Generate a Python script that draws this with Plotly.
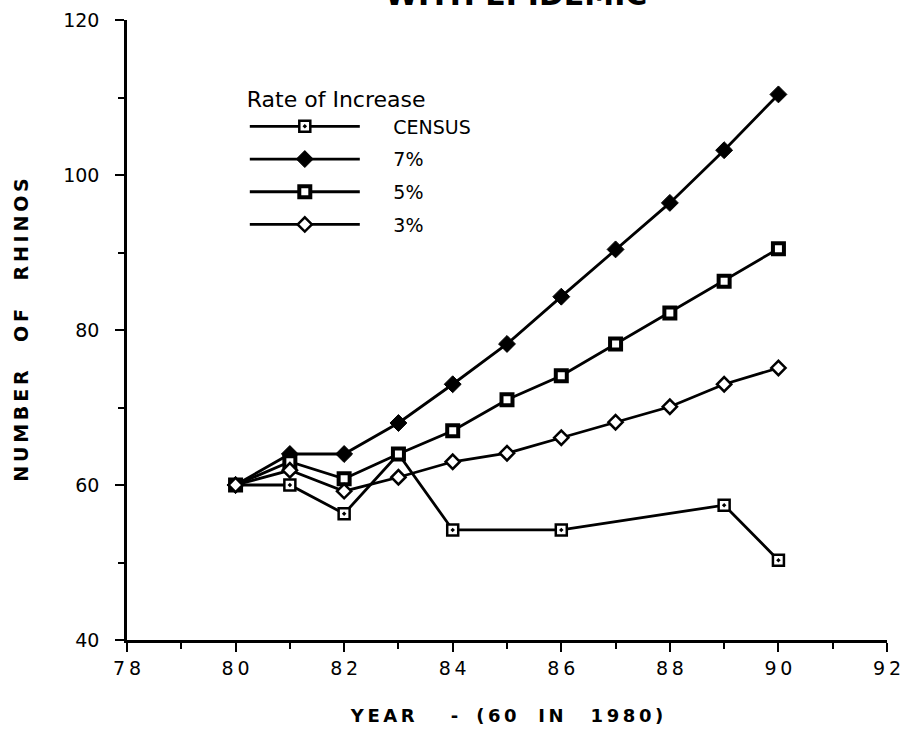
import plotly.graph_objects as go

# ---- data ----
years = [80, 81, 82, 83, 84, 85, 86, 87, 88, 89, 90]
census_years = [80, 81, 82, 83, 84, 86, 89, 90]
census = [60, 60, 56.3, 64, 54.2, 54.2, 57.4, 50.3]
rate7 = [60, 64, 64, 68, 73, 78.2, 84.3, 90.4, 96.4, 103.2, 110.4]
rate5 = [60, 63, 60.8, 64, 67, 71, 74.1, 78.2, 82.2, 86.3, 90.5]
rate3 = [60, 61.9, 59.2, 61, 63, 64.1, 66.1, 68.1, 70.1, 73, 75.1]
series_names = ["CENSUS", "7%", "5%", "3%"]
x_ticks = [78, 80, 82, 84, 86, 88, 90, 92]
x_tick_labels = ["78", "80", "82", "84", "86", "88", "90", "92"]
y_ticks = [40, 60, 80, 100, 120]
y_tick_labels = ["40", "60", "80", "100", "120"]

FONT = "DejaVu Sans"
lw = 2.8
THIN = "\u2009"
EM = "\u2003"
EN = "\u2002"


def spaced(word):
    return THIN.join(list(word))


def lname(n):
    return EM + EN + n


fig = go.Figure()
fig.add_trace(go.Scatter(
    x=census_years, y=census, name=lname(series_names[0]), mode="lines+markers", legendgroup="a",
    line=dict(color="black", width=lw),
    marker=dict(symbol="square-dot", size=11, color="white", line=dict(color="black", width=2.5))))
fig.add_trace(go.Scatter(
    x=years, y=rate7, name=lname(series_names[1]), mode="lines+markers", legendgroup="b",
    line=dict(color="black", width=lw),
    marker=dict(symbol="diamond", size=13, color="black", line=dict(color="black", width=1))))
fig.add_trace(go.Scatter(
    x=years, y=rate5, name=lname(series_names[2]), mode="lines+markers", legendgroup="c",
    line=dict(color="black", width=lw),
    marker=dict(symbol="square", size=11, color="white", line=dict(color="black", width=4))))
fig.add_trace(go.Scatter(
    x=years, y=rate3, name=lname(series_names[3]), mode="lines+markers", legendgroup="d",
    line=dict(color="black", width=lw),
    marker=dict(symbol="diamond", size=11, color="white", line=dict(color="black", width=2.5))))

x_title = ("<b>" + spaced("YEAR") + EM + EM + "-" + EM + spaced("(60") + EM + THIN
           + spaced("IN") + EM + EN + spaced("1980)") + "</b>")
y_title = ("<b>" + spaced("NUMBER") + EM + EN + spaced("OF") + EM + EN + spaced("RHINOS") + "</b>")

fig.update_layout(
    width=903, height=741,
    margin=dict(l=127, r=16, t=20, b=101),
    paper_bgcolor="white", plot_bgcolor="white",
    font=dict(family=FONT, color="black", size=19),
    showlegend=True,
    legend=dict(
        x=0.155, y=0.905, xanchor="left", yanchor="top",
        bgcolor="rgba(0,0,0,0)",
        title=dict(text="Rate of Increase", font=dict(size=22, family=FONT)),
        font=dict(size=19, family=FONT),
        itemwidth=110, tracegroupgap=5,
    ),
    xaxis=dict(
        range=[78, 92], showgrid=False, zeroline=False, automargin=False,
        showline=True, linecolor="black", linewidth=2.5,
        tickmode="array", tickvals=x_ticks,
        ticktext=[spaced(t) for t in x_tick_labels],
        ticks="outside", ticklen=9, tickwidth=2, tickcolor="black",
        minor=dict(dtick=1, ticks="outside", ticklen=6, tickwidth=2, tickcolor="black"),
        tickfont=dict(size=19, family=FONT),
        title=dict(text=x_title, font=dict(size=18, family=FONT), standoff=32),
    ),
    yaxis=dict(
        range=[40, 120], showgrid=False, zeroline=False, automargin=False,
        showline=True, linecolor="black", linewidth=2.5,
        tickmode="array", tickvals=y_ticks, ticktext=y_tick_labels,
        ticks="outside", ticklen=9, tickwidth=2, tickcolor="black",
        ticklabelstandoff=12,
        minor=dict(dtick=10, ticks="outside", ticklen=6, tickwidth=2, tickcolor="black"),
        tickfont=dict(size=19, family=FONT),
        title=dict(text=y_title, font=dict(size=19, family=FONT), standoff=30),
    ),
)

fig.add_annotation(
    text="<b>WITH EPIDEMIC</b>", xref="paper", yref="paper",
    x=0.512, y=1.0, yanchor="bottom", yshift=6, showarrow=False,
    font=dict(size=30, family=FONT, color="black"),
)

fig.write_html("out.html", config={"displayModeBar": False},
               post_script="document.body.style.margin='0';")
